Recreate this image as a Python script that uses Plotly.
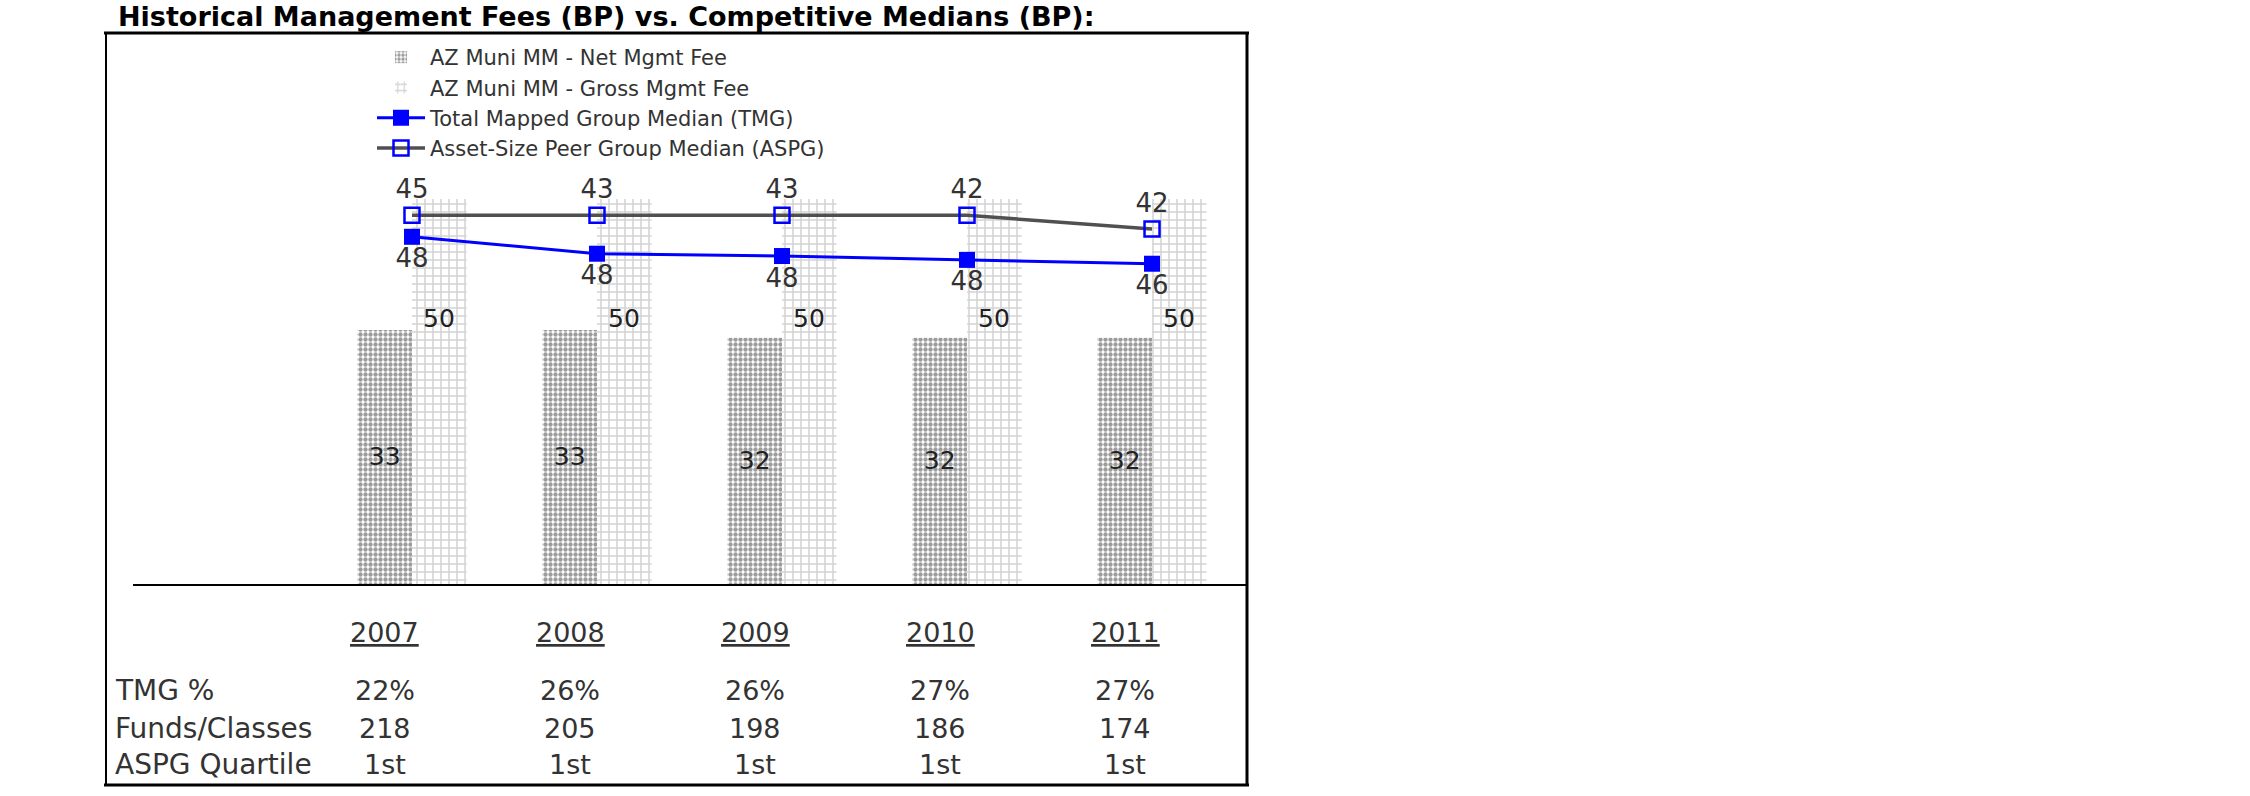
import plotly.graph_objects as go

# ---------------- data ----------------
years = ["2007", "2008", "2009", "2010", "2011"]
net_fee = [33, 33, 32, 32, 32]            # AZ Muni MM - Net Mgmt Fee
gross_fee = [50, 50, 50, 50, 50]          # AZ Muni MM - Gross Mgmt Fee
tmg_median = [45.1, 42.9, 42.6, 42.1, 41.6]   # plotted positions (TMG line)
aspg_median = [47.9, 47.9, 47.9, 47.9, 46.1]  # plotted positions (ASPG line)
# data labels as printed in the source (they appear swapped between the two lines)
upper_line_labels = ["45", "43", "43", "42", "42"]
lower_line_labels = ["48", "48", "48", "48", "46"]
net_labels = ["33", "33", "32", "32", "32"]
gross_labels = ["50", "50", "50", "50", "50"]

row_labels = ["TMG %", "Funds/Classes", "ASPG Quartile"]
tmg_pct = ["22%", "26%", "26%", "27%", "27%"]
funds_classes = ["218", "205", "198", "186", "174"]
aspg_quartile = ["1st", "1st", "1st", "1st", "1st"]

# ---------------- layout helpers ----------------
W, H = 2250, 796
L, R, T, B = 133, 1246, 32, 584


def px(x):  # page pixel -> paper fraction
    return (x - L) / (R - L)


def py(y):
    return (B - y) / (B - T)


FONT = "DejaVu Sans"
TXT = "#333333"

fig = go.Figure()

fig.add_trace(go.Bar(
    x=years, y=net_fee, name="AZ Muni MM - Net Mgmt Fee",
    text=net_labels, textposition="inside", insidetextanchor="middle",
    textangle=0, constraintext="none",
    textfont=dict(family=FONT, size=25, color="#222222"),
    marker=dict(color="white", line=dict(width=0),
                pattern=dict(shape=".", size=5, solidity=0.6,
                             fgcolor="#3a3a3a", bgcolor="white")),
))
fig.add_trace(go.Bar(
    x=years, y=gross_fee, name="AZ Muni MM - Gross Mgmt Fee",
    marker=dict(color="white", line=dict(width=0),
                pattern=dict(shape="+", size=8, solidity=0.35,
                             fgcolor="#a8a8a8", bgcolor="white")),
))
fig.add_trace(go.Scatter(
    x=years, y=tmg_median, name="Total Mapped Group Median (TMG)",
    mode="lines+markers+text", text=lower_line_labels,
    textposition="bottom center",
    textfont=dict(family=FONT, size=26, color=TXT),
    line=dict(color="#0000ff", width=3),
    marker=dict(symbol="square", size=16, color="#0000ff"),
))
fig.add_trace(go.Scatter(
    x=years, y=aspg_median, name="Asset-Size Peer Group Median (ASPG)",
    mode="lines+markers+text", text=upper_line_labels,
    textposition="top center",
    textfont=dict(family=FONT, size=26, color=TXT),
    line=dict(color="#505050", width=3.5),
    marker=dict(symbol="square-open", size=15, color="#0000ff",
                line=dict(width=2.5, color="#0000ff")),
))

annotations = []
# title
annotations.append(dict(
    xref="paper", yref="paper", x=px(116), y=py(16), xanchor="left", yanchor="middle",
    text="<b>Historical Management Fees (BP) vs. Competitive Medians (BP):</b>",
    showarrow=False, font=dict(family=FONT, size=27, color="black")))
# gross bar labels
for i, (g, lab) in enumerate(zip(gross_fee, gross_labels)):
    annotations.append(dict(
        xref="x", yref="y", x=i, y=g, xshift=27, yshift=-119,
        xanchor="center", yanchor="middle",
        text=lab, showarrow=False, font=dict(family=FONT, size=25, color="#222222")))
# table below the chart
for i, yr in enumerate(years):
    annotations.append(dict(
        xref="x", yref="paper", x=i, y=py(632), xshift=-27,
        xanchor="center", yanchor="middle",
        text=f"<u>{yr}</u>", showarrow=False, font=dict(family=FONT, size=27, color=TXT)))
rows_y = [690, 728, 764]
for lab, vals, ry in zip(row_labels, [tmg_pct, funds_classes, aspg_quartile], rows_y):
    annotations.append(dict(
        xref="paper", yref="paper", x=px(113), y=py(ry), xanchor="left", yanchor="middle",
        text=lab, showarrow=False, font=dict(family=FONT, size=28, color=TXT)))
    for i, v in enumerate(vals):
        annotations.append(dict(
            xref="x", yref="paper", x=i, y=py(ry), xshift=-27,
            xanchor="center", yanchor="middle",
            text=v, showarrow=False, font=dict(family=FONT, size=27, color=TXT)))

shapes = [
    dict(type="line", xref="paper", yref="paper", x0=px(104), x1=px(1249), y0=py(33), y1=py(33),
         line=dict(color="black", width=3)),
    dict(type="line", xref="paper", yref="paper", x0=px(106), x1=px(106), y0=py(33), y1=py(786),
         line=dict(color="black", width=2)),
    dict(type="line", xref="paper", yref="paper", x0=px(1247), x1=px(1247), y0=py(33), y1=py(786),
         line=dict(color="black", width=3)),
    dict(type="line", xref="paper", yref="paper", x0=px(104), x1=px(1249), y0=py(785), y1=py(785),
         line=dict(color="black", width=3)),
]

fig.update_layout(
    width=W, height=H,
    margin=dict(l=L, r=W - R, t=T, b=H - B, pad=0),
    paper_bgcolor="white", plot_bgcolor="white",
    barmode="group", bargap=0.41, bargroupgap=0,
    font=dict(family=FONT, color=TXT),
    xaxis=dict(type="category", range=[-1.508, 4.508], showticklabels=False, ticks="",
               showgrid=False, zeroline=False, showline=True, linecolor="black", linewidth=2),
    yaxis=dict(range=[0, 71.7], visible=False),
    showlegend=True,
    legend=dict(x=px(372), y=py(37), xanchor="left", yanchor="top",
                font=dict(family=FONT, size=21, color=TXT),
                bgcolor="rgba(0,0,0,0)", itemwidth=48, traceorder="normal"),
    annotations=annotations,
    shapes=shapes,
)

fig.write_html("out.html", config={"displayModeBar": False},
               post_script="document.body.style.margin='0px';")
